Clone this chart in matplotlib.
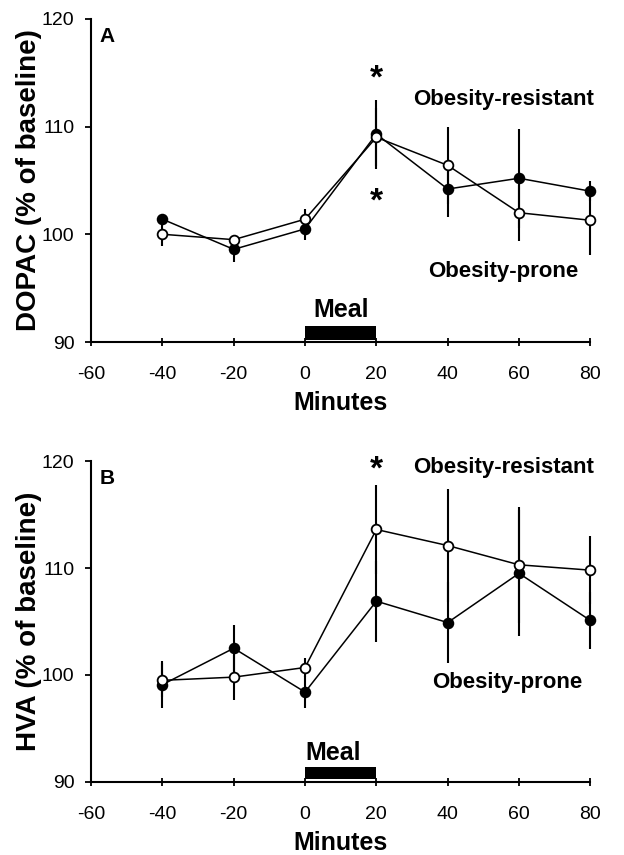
import matplotlib
matplotlib.use("Agg")
import matplotlib.pyplot as plt

plt.rcParams["font.family"] = ["Liberation Sans", "DejaVu Sans"]
plt.rcParams["axes.unicode_minus"] = False

# ---------------------------------------------------------------
# data
# ---------------------------------------------------------------
minutes = [-40, -20, 0, 20, 40, 60, 80]

# panel A: DOPAC
a_filled = [101.4, 98.6, 100.5, 109.3, 104.2, 105.2, 104.0]
a_filled_err = [0.5, 1.2, 1.0, 3.2, 2.6, 4.6, 0.9]
a_open = [100.0, 99.5, 101.4, 109.0, 106.4, 102.0, 101.3]
a_open_err = [1.1, 0.3, 0.9, 2.7, 3.6, 2.6, 3.2]

# panel B: HVA
b_filled = [99.1, 102.5, 98.4, 106.9, 104.9, 109.5, 105.1]
b_filled_err = [2.2, 2.2, 1.5, 3.8, 3.8, 5.9, 2.7]
b_open = [99.5, 99.8, 100.7, 113.6, 112.1, 110.3, 109.8]
b_open_err = [1.6, 2.1, 0.9, 4.2, 5.3, 5.4, 3.2]

x_ticks = [-60, -40, -20, 0, 20, 40, 60, 80]
y_ticks = [90, 100, 110, 120]
meal_start, meal_end = 0, 20

panels = [
    dict(letter="A", ylabel="DOPAC (% of baseline)",
         filled=a_filled, filled_err=a_filled_err, open_=a_open, open_err=a_open_err,
         stars=[(20, 114.4), (20, 103.0)],
         res_pos=(55.6, 112.5), prone_pos=(55.6, 96.5), meal_pos=(10, 93.0),
         bar=(90.2, 91.5)),
    dict(letter="B", ylabel="HVA (% of baseline)",
         filled=b_filled, filled_err=b_filled_err, open_=b_open, open_err=b_open_err,
         stars=[(20, 119.2)],
         res_pos=(55.6, 119.4), prone_pos=(56.6, 99.3), meal_pos=(8, 92.7),
         bar=(90.3, 91.4)),
]

fig = plt.figure(figsize=(6.24, 8.55), dpi=100)
boxes = [[0.146, 0.600, 0.800, 0.378], [0.146, 0.0854, 0.800, 0.3754]]

for box, p in zip(boxes, panels):
    ax = fig.add_axes(box)

    for ys, es, face, z in [(p["filled"], p["filled_err"], "black", 3),
                            (p["open_"], p["open_err"], "white", 4)]:
        eb = ax.errorbar(minutes, ys, yerr=es, fmt="-o", color="black",
                         lw=1.1, elinewidth=1.5, capsize=0, ms=7, mfc=face, mec="black",
                         mew=1.3, zorder=z)
        for artist in eb.lines[0:1] + tuple(eb.lines[2]):
            artist.set_clip_on(False)

    # meal bar
    y0, y1 = p["bar"]
    ax.fill_between([meal_start, meal_end], y0, y1, color="black", lw=0, zorder=2)
    ax.text(p["meal_pos"][0], p["meal_pos"][1], "Meal", fontsize=18, fontweight="bold",
            ha="center", va="center")

    for sx, sy in p["stars"]:
        ax.text(sx, sy, "*", fontsize=24, fontweight="bold", ha="center", va="center")

    ax.text(p["res_pos"][0], p["res_pos"][1], "Obesity-resistant", fontsize=16,
            fontweight="bold", ha="center", va="center")
    ax.text(p["prone_pos"][0], p["prone_pos"][1], "Obesity-prone", fontsize=16,
            fontweight="bold", ha="center", va="center")
    ax.text(0.032, 0.975, p["letter"], transform=ax.transAxes, fontsize=15,
            fontweight="bold", ha="center", va="top")

    ax.set_xlim(-60, 80)
    ax.set_ylim(90, 120)
    ax.set_xticks(x_ticks)
    ax.set_yticks(y_ticks)
    ax.tick_params(axis="x", direction="inout", length=6, width=1.3, labelsize=14, pad=14)
    ax.tick_params(axis="y", direction="out", length=4, width=1.3, labelsize=14, pad=8)
    for s in ["top", "right"]:
        ax.spines[s].set_visible(False)
    for s in ["left", "bottom"]:
        ax.spines[s].set_linewidth(1.5)

    ax.set_xlabel("Minutes", fontsize=18, fontweight="bold", labelpad=6)
    ax.set_ylabel(p["ylabel"], fontsize=20, fontweight="bold", labelpad=0)

fig.savefig("out.png", dpi=100)
